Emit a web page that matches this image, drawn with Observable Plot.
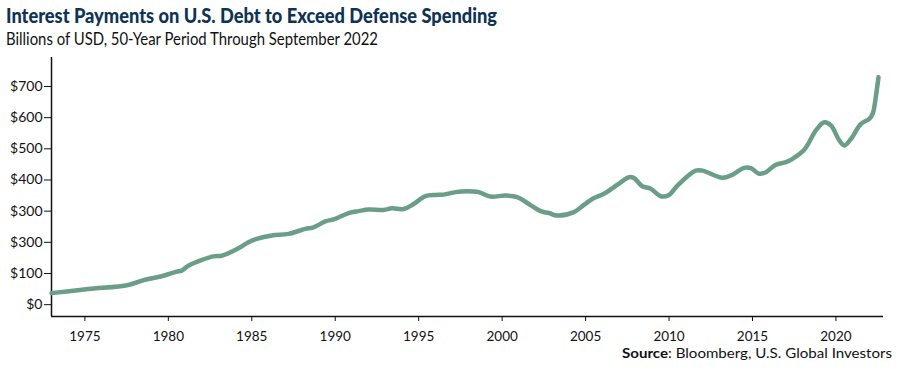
<!DOCTYPE html>
<html>
<head>
<meta charset="utf-8">
<script src="https://cdn.jsdelivr.net/npm/d3@7"></script>
<script src="https://cdn.jsdelivr.net/npm/@observablehq/plot@0.6"></script>
<style>
  html, body { margin: 0; padding: 0; background: #fff; }
  #wrap { position: relative; width: 900px; height: 375px; overflow: hidden; font-family: Lato, "Open Sans", sans-serif; }
  #head, #foot, #chart { position: absolute; left: 0; }
  #head { top: 0; }
  #chart { top: 50px; }
  #foot { top: 345px; }
</style>
</head>
<body>
<div id="wrap">
  <svg id="head" width="900" height="50">
    <text x="6" y="23" textLength="491" lengthAdjust="spacingAndGlyphs" font-family="Lato, sans-serif" font-weight="900" font-size="20.5" fill="#0e3354">Interest Payments on U.S. Debt to Exceed Defense Spending</text>
    <text x="6" y="45" textLength="372" lengthAdjust="spacingAndGlyphs" font-family="Lato, sans-serif" font-size="17" fill="#111">Billions of USD, 50-Year Period Through September 2022</text>
  </svg>
  <div id="chart"></div>
  <svg id="foot" width="900" height="30">
    <text x="892" y="13" text-anchor="end" textLength="270" lengthAdjust="spacingAndGlyphs" font-family="Lato, sans-serif" font-size="13" fill="#111"><tspan font-weight="bold">Source</tspan>: Bloomberg, U.S. Global Investors</text>
  </svg>
</div>
<script>
// Interest payments on U.S. debt, billions of USD
const years = [1973.0, 1975.2, 1977.6, 1978.6, 1979.6, 1980.5, 1980.8, 1981.2, 1982.7, 1983.2,
  1984.2, 1984.8, 1985.3, 1986.2, 1987.2, 1988.2, 1988.7, 1989.4, 1990.0, 1990.8,
  1991.4, 1992.0, 1992.9, 1993.4, 1994.1, 1994.7, 1995.4, 1996.0, 1996.5, 1997.2,
  1997.9, 1998.6, 1999.3, 2000.2, 2000.9, 2001.6, 2002.3, 2002.8, 2003.3, 2004.3,
  2004.9, 2005.4, 2006.1, 2007.0, 2007.6, 2007.9, 2008.4, 2008.9, 2009.5, 2010.0,
  2010.5, 2011.6, 2012.0, 2013.2, 2013.8, 2014.5, 2014.9, 2015.4, 2015.8, 2016.4,
  2017.0, 2017.4, 2018.1, 2018.8, 2019.3, 2019.7, 2020.2, 2020.5, 2020.9, 2021.5,
  2022.0, 2022.2, 2022.4, 2022.55];
const payments = [37, 50, 63, 80, 91, 106, 109, 125, 155, 157,
  181, 200, 211, 222, 227, 243, 248, 267, 275, 294,
  300, 305, 304, 309, 307, 323, 348, 352, 353, 361,
  364, 361, 347, 350, 345, 323, 300, 294, 286, 297,
  320, 339, 356, 388, 409, 406, 380, 372, 348, 352,
  382, 430, 430, 407, 417, 439, 438, 420, 425, 449,
  457, 468, 497, 559, 585, 575, 527, 511, 532, 580,
  596, 612, 671, 730];

const xTicks = [1975, 1980, 1985, 1990, 1995, 2000, 2005, 2010, 2015, 2020];
const yTicks = [0, 100, 200, 300, 400, 500, 600, 700];
const yLabels = ["$0", "$100", "$300", "$300", "$400", "$500", "$600", "$700"];
const xDomain = [1973, 2022.85];
const yDomain = [-38, 793];

const data = years.map((y, i) => ({year: y, value: payments[i]}));

const chart = Plot.plot({
  width: 900,
  height: 300,
  marginTop: 7,
  marginBottom: 34,
  marginLeft: 51,
  marginRight: 17,
  style: {fontFamily: "Lato, sans-serif", fontSize: "14px", color: "#111", background: "transparent"},
  x: {domain: xDomain},
  y: {domain: yDomain},
  marks: [
    Plot.axisY({ticks: yTicks, tickFormat: d => yLabels[yTicks.indexOf(d)], tickSize: 7, tickPadding: 2, label: null, fontSize: 14, stroke: "#111"}),
    Plot.axisX({ticks: xTicks, tickFormat: d => String(d), tickSize: 5, tickPadding: 10, label: null, fontSize: 13.5, stroke: "#111"}),
    Plot.ruleX([xDomain[0]], {stroke: "#111", strokeWidth: 1.5}),
    Plot.ruleY([yDomain[0]], {stroke: "#111", strokeWidth: 1.5}),
    Plot.line(data, {x: "year", y: "value", curve: "catmull-rom", stroke: "#6b9e86", strokeWidth: 4.5, strokeLinecap: "round", strokeLinejoin: "round"})
  ]
});
document.getElementById("chart").appendChild(chart);
</script>
</body>
</html>
